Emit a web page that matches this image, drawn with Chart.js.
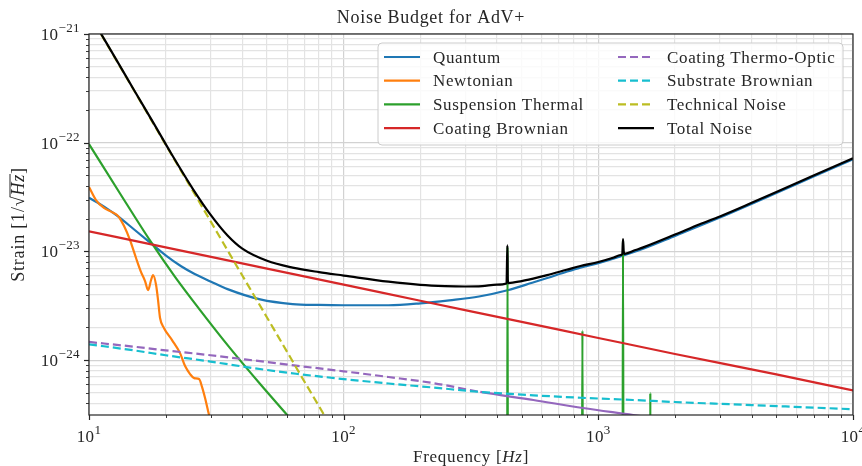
<!DOCTYPE html>
<html>
<head>
<meta charset="utf-8">
<title>Noise Budget for AdV+</title>
<script src="https://cdn.jsdelivr.net/npm/chart.js@4.4.1/dist/chart.umd.min.js"></script>
<style>
  html, body { margin: 0; padding: 0; background: #ffffff; }
</style>
</head>
<body>
<canvas id="noiseChart" width="862" height="466"></canvas>
<script>
// values: frequency [Hz] / strain [1/sqrt(Hz)]
const quantumF = [10, 11.5, 13, 15, 17.5, 20, 23, 26, 30, 35, 47, 63, 80, 100, 150, 200, 260, 340, 440, 550, 630, 750, 850, 1000, 1220, 1500, 2000, 3000, 5000, 7000, 10000];
const quantumV = [3.12e-23, 2.57e-23, 2.1e-23, 1.6e-23, 1.19e-23, 9.2e-24, 7.3e-24, 6.2e-24, 5.3e-24, 4.5e-24, 3.62e-24, 3.28e-24, 3.22e-24, 3.2e-24, 3.2e-24, 3.33e-24, 3.55e-24, 3.85e-24, 4.4e-24, 5.15e-24, 5.69e-24, 6.5e-24, 7.1e-24, 7.8e-24, 9.0e-24, 1.06e-23, 1.39e-23, 2.05e-23, 3.45e-23, 4.9e-23, 7.05e-23];

const newtonianF = [10, 10.65, 11.45, 12.31, 13.0, 13.73, 14.49, 15.3, 16.01, 16.6, 17.06, 17.53, 17.85, 18.34, 18.67, 19.01, 19.71, 21.19, 22.78, 23.84, 24.94, 25.86, 27.06, 27.8, 28.56, 29.61, 30.5];
const newtonianV = [3.91e-23, 2.97e-23, 2.51e-23, 2.3e-23, 2.12e-23, 1.71e-23, 1.27e-23, 8.7e-24, 6.46e-24, 5.34e-24, 4.41e-24, 5.46e-24, 6.07e-24, 4.91e-24, 3.57e-24, 2.44e-24, 1.97e-24, 1.53e-24, 1.16e-24, 8.82e-25, 7.45e-25, 6.84e-25, 6.7e-25, 5.65e-25, 4.48e-25, 3.13e-25, 2.4e-25];

const suspensionF = [10, 13.2, 17.4, 21.8, 27.3, 35.8, 47, 60, 70, 100, 438.5, 440, 441.5, 861, 866, 871, 1244, 1250, 1256, 1595, 1600, 1605, 10000];
const suspensionV = [9.72e-23, 3.45e-23, 1.25e-23, 5.81e-24, 2.89e-24, 1.29e-24, 6.03e-25, 3.13e-25, 2.07e-25, 8e-26, 1e-26, 1.1e-23, 1e-26, 1e-26, 1.87e-24, 1e-26, 1e-26, 1.25e-23, 1e-26, 1e-26, 5e-25, 1e-26, 1e-26];

const coatingBrownianF = [10, 20, 50, 100, 200, 500, 1000, 2000, 5000, 10000];
const coatingBrownianV = [1.53e-23, 1.09e-23, 6.95e-24, 4.95e-24, 3.52e-24, 2.25e-24, 1.6e-24, 1.14e-24, 7.4e-25, 5.26e-25];

const thermoOpticF = [10, 15, 20, 30, 45, 65, 100, 150, 225, 344, 556, 870, 1370, 2000];
const thermoOpticV = [1.47e-24, 1.33e-24, 1.23e-24, 1.11e-24, 9.9e-25, 8.9e-25, 7.9e-25, 7.0e-25, 6.15e-25, 5.1e-25, 4.3e-25, 3.63e-25, 3.13e-25, 2.75e-25];

const substrateF = [10, 15, 20, 30, 45, 65, 100, 150, 225, 344, 556, 870, 1370, 2000, 4000, 10000];
const substrateV = [1.40e-24, 1.23e-24, 1.11e-24, 9.7e-25, 8.4e-25, 7.5e-25, 6.7e-25, 6.1e-25, 5.6e-25, 5.1e-25, 4.75e-25, 4.5e-25, 4.3e-25, 4.12e-25, 3.86e-25, 3.54e-25];

const technicalF = [10, 15, 20, 25, 30, 40, 50, 60, 70, 80, 90];
const technicalV = [1.54e-21, 3.05e-22, 9.6e-23, 3.95e-23, 1.9e-23, 6.0e-24, 2.47e-24, 1.19e-24, 6.4e-25, 3.77e-25, 2.35e-25];

const totalF = [10, 11, 13, 15, 18, 21, 25.6, 30, 35, 40, 50, 63, 80, 100, 150, 200, 250, 300, 350, 400, 436, 439.5, 441, 444, 500, 550, 630, 750, 850, 1000, 1150, 1220, 1242, 1250, 1258, 1268, 1400, 1500, 2000, 2500, 3000, 4000, 5000, 7000, 10000];
const totalV = [1.55e-21, 1.06e-21, 5.45e-22, 3.07e-22, 1.49e-22, 8.0e-23, 3.75e-23, 2.18e-23, 1.4e-23, 1.06e-23, 8.2e-24, 7.1e-24, 6.45e-24, 6.0e-24, 5.27e-24, 4.93e-24, 4.8e-24, 4.76e-24, 4.8e-24, 4.95e-24, 5.08e-24, 1.14e-23, 5.5e-24, 5.12e-24, 5.34e-24, 5.6e-24, 6.05e-24, 6.78e-24, 7.35e-24, 8.0e-24, 8.8e-24, 9.25e-24, 9.45e-24, 1.3e-23, 1.0e-23, 9.5e-24, 1.03e-23, 1.09e-23, 1.43e-23, 1.78e-23, 2.1e-23, 2.8e-23, 3.52e-23, 5.0e-23, 7.2e-23];

// axes
const xMin = 10, xMax = 10000;
const yMin = 3.13e-25, yMax = 1e-21;
const xDecadeExps = [1, 2, 3, 4];
const xExpLabels = ['1', '2', '3', '4'];
const yDecadeExps = [-24, -23, -22, -21];
const yExpLabels = ['\u221224', '\u221223', '\u221222', '\u221221'];
const minorMantissas = [2, 3, 4, 5, 6, 7, 8, 9];

const serif = "'Liberation Serif', 'Times New Roman', serif";

const pts = (f, v) => f.map((x, i) => ({ x: x, y: v[i] }));

const buildTicks = (exps, lo, hi) => {
  const ticks = [];
  const all = [exps[0] - 1].concat(exps);
  all.forEach(e => {
    const base = Math.pow(10, e);
    if (base >= lo * 0.999 && base <= hi * 1.001) ticks.push({ value: base, major: true });
    minorMantissas.forEach(m => {
      const v = m * base;
      if (v >= lo && v <= hi) ticks.push({ value: v, major: false });
    });
  });
  return ticks.sort((p, q) => p.value - q.value);
};

const series = [
  { label: 'Quantum', f: quantumF, v: quantumV, color: '#1f77b4', dash: [] },
  { label: 'Newtonian', f: newtonianF, v: newtonianV, color: '#ff7f0e', dash: [] },
  { label: 'Suspension Thermal', f: suspensionF, v: suspensionV, color: '#2ca02c', dash: [] },
  { label: 'Coating Brownian', f: coatingBrownianF, v: coatingBrownianV, color: '#d62728', dash: [] },
  { label: 'Coating Thermo-Optic', f: thermoOpticF, v: thermoOpticV, color: '#9467bd', dash: [8, 4] },
  { label: 'Substrate Brownian', f: substrateF, v: substrateV, color: '#17becf', dash: [8, 4] },
  { label: 'Technical Noise', f: technicalF, v: technicalV, color: '#bcbd22', dash: [8, 4] },
  { label: 'Total Noise', f: totalF, v: totalV, color: '#000000', dash: [] }
];

const datasets = series.map((s, i) => ({
  label: s.label,
  data: pts(s.f, s.v),
  borderColor: s.color,
  backgroundColor: s.color,
  borderWidth: 2.2,
  borderDash: s.dash,
  borderJoinStyle: 'round',
  cubicInterpolationMode: 'monotone',
  showLine: true,
  pointRadius: 0,
  fill: false,
  clip: 0,
  order: series.length - i
}));
// thermo-optic trace looks solid past its crossing with the substrate trace
datasets[4].segment = { borderDash: c => (c.p0.parsed.x >= 344 ? [] : undefined) };

function drawRuns(ctx, runs, x, y, align, spacing) {
  ctx.letterSpacing = (spacing || 0) + 'px';
  let total = 0;
  runs.forEach(r => { ctx.font = r.font; r.w = ctx.measureText(r.text).width; total += r.w; });
  let cx = align === 'center' ? x - total / 2 : (align === 'right' ? x - total : x);
  ctx.textAlign = 'left';
  runs.forEach(r => {
    ctx.font = r.font;
    r.x = cx;
    ctx.fillText(r.text, cx, y + (r.dy || 0));
    cx += r.w;
  });
  ctx.letterSpacing = '0px';
  return runs;
}

const decorations = {
  id: 'decorations',
  afterDraw(chart) {
    const { ctx, chartArea: a } = chart;
    const xs = chart.scales.x, ys = chart.scales.y;
    ctx.save();
    ctx.fillStyle = '#262626';
    ctx.strokeStyle = '#262626';
    ctx.textBaseline = 'alphabetic';

    // tick marks outside the frame
    xs.ticks.forEach(t => {
      const px = Math.round(xs.getPixelForValue(t.value)) + 0.5;
      ctx.lineWidth = t.major ? 1.2 : 0.9;
      ctx.beginPath();
      ctx.moveTo(px, a.bottom);
      ctx.lineTo(px, a.bottom + (t.major ? 5 : 3));
      ctx.stroke();
    });
    ys.ticks.forEach(t => {
      const py = Math.round(ys.getPixelForValue(t.value)) + 0.5;
      ctx.lineWidth = t.major ? 1.2 : 0.9;
      ctx.beginPath();
      ctx.moveTo(a.left, py);
      ctx.lineTo(a.left - (t.major ? 5 : 3), py);
      ctx.stroke();
    });

    // frame
    ctx.lineWidth = 1.2;
    ctx.strokeRect(a.left, a.top, a.right - a.left, a.bottom - a.top);

    // tick labels
    xDecadeExps.forEach((e, i) => {
      const px = xs.getPixelForValue(Math.pow(10, e));
      drawRuns(ctx, [
        { text: '10', font: '17px ' + serif },
        { text: xExpLabels[i], font: '13px ' + serif, dy: -8 }
      ], px, a.bottom + 27, 'center', 0.4);
    });
    yDecadeExps.forEach((e, i) => {
      const py = ys.getPixelForValue(Math.pow(10, e));
      drawRuns(ctx, [
        { text: '10', font: '17px ' + serif },
        { text: yExpLabels[i], font: '13px ' + serif, dy: -8 }
      ], a.left - 9, py + 6, 'right', 0.4);
    });

    // title
    drawRuns(ctx, [{ text: 'Noise Budget for AdV+', font: '18px ' + serif }], chart.width / 2, 23, 'center', 0.7);

    // x axis label
    drawRuns(ctx, [
      { text: 'Frequency [', font: '17px ' + serif },
      { text: 'Hz', font: 'italic 17px ' + serif },
      { text: ']', font: '17px ' + serif }
    ], (a.left + a.right) / 2, a.bottom + 47, 'center', 0.7);

    // y axis label
    ctx.save();
    ctx.translate(24, (a.top + a.bottom) / 2);
    ctx.rotate(-Math.PI / 2);
    const runs = drawRuns(ctx, [
      { text: 'Strain [1/', font: '18px ' + serif },
      { text: '\u221A', font: '18px ' + serif },
      { text: 'Hz', font: 'italic 18px ' + serif },
      { text: ']', font: '18px ' + serif }
    ], 0, 0, 'center', 0.8);
    ctx.lineWidth = 1;
    ctx.beginPath();
    ctx.moveTo(runs[1].x + runs[1].w - 1.5, -14);
    ctx.lineTo(runs[2].x + runs[2].w, -14);
    ctx.stroke();
    ctx.restore();

    // legend, two columns, upper right
    const box = { left: a.right - 475, top: a.top + 9, w: 465, h: 102 };
    const r = 4;
    ctx.beginPath();
    ctx.moveTo(box.left + r, box.top);
    ctx.arcTo(box.left + box.w, box.top, box.left + box.w, box.top + box.h, r);
    ctx.arcTo(box.left + box.w, box.top + box.h, box.left, box.top + box.h, r);
    ctx.arcTo(box.left, box.top + box.h, box.left, box.top, r);
    ctx.arcTo(box.left, box.top, box.left + box.w, box.top, r);
    ctx.closePath();
    ctx.fillStyle = 'rgba(255,255,255,0.8)';
    ctx.fill();
    ctx.strokeStyle = '#cccccc';
    ctx.lineWidth = 1;
    ctx.stroke();

    chart.data.datasets.forEach((ds, i) => {
      const col = i < 4 ? 0 : 1;
      const row = i % 4;
      const hx = box.left + (col === 0 ? 6 : 240);
      const cy = box.top + 14 + row * 23.7;
      ctx.strokeStyle = ds.borderColor;
      ctx.lineWidth = 2.2;
      ctx.setLineDash(ds.borderDash || []);
      ctx.beginPath();
      ctx.moveTo(hx, cy);
      ctx.lineTo(hx + 36, cy);
      ctx.stroke();
      ctx.setLineDash([]);
      ctx.fillStyle = '#262626';
      drawRuns(ctx, [{ text: ds.label, font: '17px ' + serif }], hx + 49, cy + 5.5, 'left', 0.65);
    });

    ctx.restore();
  }
};

const gridColor = c => (c.tick && c.tick.major ? '#d2d2d2' : '#e3e3e3');

new Chart(document.getElementById('noiseChart'), {
  type: 'scatter',
  data: { datasets: datasets },
  options: {
    responsive: false,
    devicePixelRatio: 1,
    animation: false,
    events: [],
    layout: { padding: { left: 89, right: 9, top: 34, bottom: 51 } },
    plugins: {
      legend: { display: false },
      title: { display: false },
      tooltip: { enabled: false }
    },
    scales: {
      x: {
        type: 'logarithmic',
        min: xMin,
        max: xMax,
        bounds: 'data',
        ticks: { display: false },
        border: { display: false },
        grid: { drawTicks: false, color: gridColor, lineWidth: 1.2 },
        afterBuildTicks: axis => { axis.ticks = buildTicks(xDecadeExps, xMin, xMax); }
      },
      y: {
        type: 'logarithmic',
        min: yMin,
        max: yMax,
        bounds: 'data',
        ticks: { display: false },
        border: { display: false },
        grid: { drawTicks: false, color: gridColor, lineWidth: 1.2 },
        afterBuildTicks: axis => { axis.ticks = buildTicks(yDecadeExps, yMin, yMax); }
      }
    }
  },
  plugins: [decorations]
});
</script>
</body>
</html>
